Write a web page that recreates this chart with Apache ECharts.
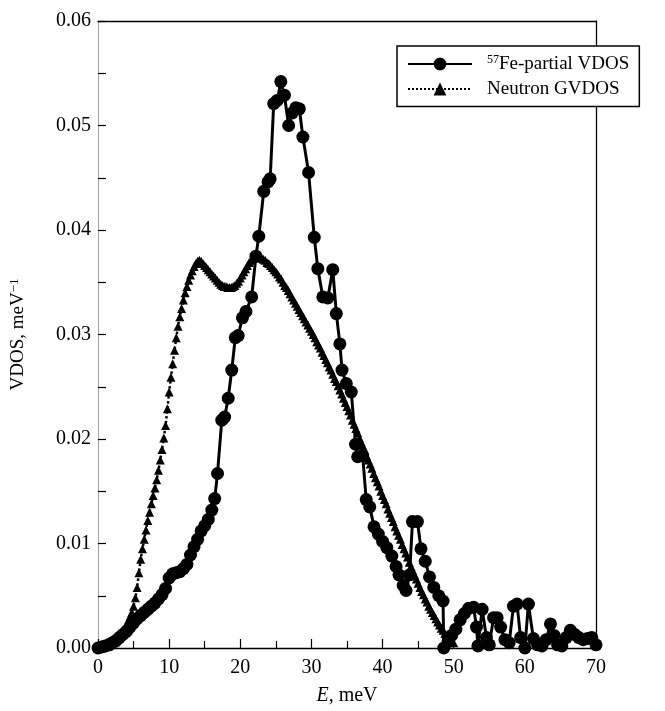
<!DOCTYPE html>
<html><head><meta charset="utf-8">
<script src="https://cdn.jsdelivr.net/npm/echarts/dist/echarts.min.js"></script>
<style>html,body{margin:0;padding:0;background:#fff}#c{width:665px;height:711px}</style>
</head><body><div id="c"></div>
<script>
// 57Fe-partial VDOS (energy in meV, value in meV^-1)
const feE = [0,0.5,1,1.5,2,2.5,3,3.5,4,4.5,5,5.5,6,6.5,7,7.5,8,8.5,9,9.5,10,10.5,11,11.5,12,12.5,13,13.5,14,14.5,15,15.5,16,
  16.4,16.8,17.4,17.8,18.3,18.8,19.3,19.7,20.3,20.8,21.6,
  22.2,22.6,23.3,23.9,24.2,24.7,25.2,25.7,26.2,26.8,
  27.3,27.8,28.3,28.8,29.6,30.4,30.9,31.6,32.3,33.0,
  33.5,34.0,34.3,34.9,35.6,36.2,36.5,37.2,37.7,38.2,
  38.8,39.4,40.0,40.6,41.3,41.9,42.3,42.9,43.3,43.8,
  44.2,44.9,45.4,46.0,46.6,47.2,47.9,48.5,48.6,49.2,
  49.7,50.3,50.9,51.5,52.1,52.8,53.2,53.4,54.0,54.6,
  55.0,55.6,56.1,56.6,57.2,57.8,58.4,58.9,59.4,60.0,
  60.5,61.2,61.8,62.4,63.0,63.6,64.1,64.6,65.2,65.8,
  66.4,67.0,67.6,68.2,68.8,69.4,70.0];
const feV = [0,0.0001,0.0002,0.0003,0.0005,0.0007,0.0010,0.0013,0.0016,0.0020,
  0.0024,0.0028,0.0031,0.0034,0.0037,0.0040,0.0043,0.0047,0.0051,0.0057,
  0.0067,0.0071,0.0072,0.0073,0.0076,0.0080,0.0089,0.0097,0.0104,0.0112,
  0.0117,0.0123,0.0132,
  0.0143,0.0167,0.0218,0.0221,0.0239,0.0266,0.0297,0.0299,0.0316,0.0322,0.0336,
  0.0375,0.0394,0.0437,0.0446,0.0449,0.0521,0.0524,0.0542,0.0529,0.0500,
  0.0512,0.0517,0.0516,0.0489,0.0455,0.0393,0.0363,0.0336,0.0335,0.0362,
  0.0320,0.0291,0.0266,0.0253,0.0245,0.0195,0.0183,0.0184,0.0142,0.0135,
  0.0116,0.0109,0.0102,0.0096,0.0088,0.0078,0.0070,0.0060,0.0055,0.0070,
  0.0121,0.0121,0.0095,0.0083,0.0068,0.0058,0.0050,0.0045,0.0000,0.0006,
  0.0012,0.0018,0.0027,0.0033,0.0038,0.0039,0.0020,0.0002,0.0037,0.0010,
  0.0003,0.0029,0.0029,0.0020,0.0008,0.0005,0.0040,0.0042,0.0010,0.0000,
  0.0042,0.0009,0.0003,0.0002,0.0008,0.0023,0.0012,0.0003,0.0002,0.0010,
  0.0017,0.0013,0.0010,0.0008,0.0009,0.0010,0.0003];

// Neutron GVDOS
const gvE = [0,0.25,0.5,0.75,1,1.25,1.5,1.75,2,2.25,2.5,2.75,3,3.25,3.5,3.75,4,4.25,4.5,4.75,
  5,5.25,5.5,5.75,6,6.25,6.5,6.75,7,7.25,7.5,7.75,8,8.25,8.5,8.75,9,9.25,9.5,9.75,
  10,10.25,10.5,10.75,11,11.25,11.5,11.75,12,12.25,12.5,12.75,13,13.25,13.5,13.75,14,14.25,14.5,14.75,
  15,15.25,15.5,15.75,16,16.25,16.5,16.75,17,17.25,17.5,17.75,18,18.25,18.5,18.75,19,19.25,19.5,19.75,
  20,20.25,20.5,20.75,21,21.25,21.5,21.75,22,22.25,22.5,22.75,23,23.25,23.5,23.75,24,24.25,24.5,24.75,
  25,25.25,25.5,25.75,26,26.25,26.5,26.75,27,27.25,27.5,27.75,28,28.25,28.5,28.75,29,29.25,29.5,29.75,
  30,30.25,30.5,30.75,31,31.25,31.5,31.75,32,32.25,32.5,32.75,33,33.25,33.5,33.75,34,34.25,34.5,34.75,
  35,35.25,35.5,35.75,36,36.25,36.5,36.75,37,37.25,37.5,37.75,38,38.25,38.5,38.75,39,39.25,39.5,39.75,
  40,40.25,40.5,40.75,41,41.25,41.5,41.75,42,42.25,42.5,42.75,43,43.25,43.5,43.75,44,44.25,44.5,44.75,
  45,45.25,45.5,45.75,46,46.25,46.5,46.75,47,47.25,47.5,47.75,48,48.25,48.5,48.75,49,49.25,49.5,49.75,
  50];
const gvV = [0,0.0000,0.0000,0.0001,0.0001,0.0002,0.0002,0.0003,0.0004,0.0005,0.0006,0.0008,0.0010,0.0012,0.0015,0.0018,0.0022,0.0026,0.0030,0.0034,
  0.0040,0.0048,0.0058,0.0072,0.0085,0.0095,0.0104,0.0113,0.0122,0.0130,0.0138,0.0146,0.0153,0.0161,0.0170,0.0180,0.0190,0.0201,0.0213,0.0229,
  0.0245,0.0259,0.0272,0.0285,0.0297,0.0308,0.0317,0.0325,0.0333,0.0340,0.0346,0.0352,0.0357,0.0361,0.0365,0.0368,0.0370,0.0371,0.0370,0.0368,
  0.0366,0.0364,0.0362,0.0360,0.0358,0.0356,0.0354,0.0352,0.0350,0.0348,0.0347,0.0346,0.0346,0.0345,0.0345,0.0345,0.0346,0.0347,0.0349,0.0351,
  0.0354,0.0357,0.0360,0.0363,0.0366,0.0369,0.0371,0.0373,0.0374,0.0375,0.0374,0.0374,0.0373,0.0372,0.0371,0.0369,0.0368,0.0366,0.0364,0.0362,
  0.0360,0.0358,0.0355,0.0353,0.0350,0.0347,0.0345,0.0342,0.0339,0.0336,0.0333,0.0330,0.0327,0.0324,0.0321,0.0318,0.0315,0.0312,0.0309,0.0306,
  0.0303,0.0300,0.0297,0.0293,0.0290,0.0287,0.0283,0.0280,0.0276,0.0273,0.0269,0.0266,0.0262,0.0258,0.0255,0.0251,0.0247,0.0243,0.0239,0.0235,
  0.0231,0.0227,0.0223,0.0218,0.0214,0.0210,0.0206,0.0201,0.0197,0.0193,0.0189,0.0184,0.0180,0.0176,0.0172,0.0167,0.0163,0.0159,0.0155,0.0150,
  0.0146,0.0142,0.0138,0.0133,0.0129,0.0125,0.0121,0.0116,0.0112,0.0108,0.0104,0.0099,0.0095,0.0091,0.0087,0.0082,0.0078,0.0074,0.0070,0.0066,
  0.0062,0.0058,0.0054,0.0051,0.0047,0.0044,0.0040,0.0037,0.0034,0.0031,0.0028,0.0025,0.0022,0.0019,0.0017,0.0014,0.0012,0.0010,0.0008,0.0006,
  0.0005];

const xMin = 0, xMax = 70, xStep = 10;
const yMin = 0, yMax = 0.06, yStep = 0.01;
const seriesNames = ['Fe', 'GV'];
const legendLabels = {Fe: '{sup|57}Fe-partial VDOS', GV: 'Neutron GVDOS'};

const FONT = "'Liberation Serif', 'Times New Roman', serif";
const chart = echarts.init(document.getElementById('c'), null, {renderer: 'canvas'});
const blackLine = {color: '#000', width: 1.2};

chart.setOption({
  animation: false,
  backgroundColor: '#fff',
  grid: {left: 96, right: 69, top: 21, bottom: 55, containLabel: false},
  xAxis: [{
    type: 'value', min: xMin, max: xMax, interval: xStep,
    axisLine: {show: true, lineStyle: {color: '#000', width: 1.3}},
    axisTick: {show: true, inside: true, length: 9, lineStyle: blackLine},
    minorTick: {show: true, splitNumber: 2, length: 7, lineStyle: blackLine},
    splitLine: {show: false},
    axisLabel: {color: '#000', fontFamily: FONT, fontSize: 20, margin: 10},
    name: '{i|E}, meV', nameLocation: 'middle', nameGap: 38,
    nameTextStyle: {color: '#000', fontFamily: FONT, fontSize: 20,
      rich: {i: {fontStyle: 'italic', fontFamily: FONT, fontSize: 20, color: '#000'}}}
  }, {
    type: 'value', position: 'top', min: xMin, max: xMax,
    axisLine: {show: true, onZero: false, lineStyle: {color: '#000', width: 1.3}},
    axisTick: {show: false}, axisLabel: {show: false}, splitLine: {show: false}
  }],
  yAxis: [{
    type: 'value', min: yMin, max: yMax, interval: yStep,
    axisLine: {show: true, lineStyle: {color: '#aaa', width: 1.2}},
    axisTick: {show: true, inside: true, length: 8, lineStyle: blackLine},
    minorTick: {show: true, splitNumber: 2, length: 8, lineStyle: blackLine},
    splitLine: {show: false},
    axisLabel: {color: '#000', fontFamily: FONT, fontSize: 20, margin: 7,
      formatter: v => v.toFixed(2)},
    name: 'VDOS, meV{sup|−1}', nameLocation: 'middle', nameGap: 69,
    nameTextStyle: {color: '#000', fontFamily: FONT, fontSize: 19,
      rich: {sup: {fontSize: 13, fontFamily: FONT, color: '#000', verticalAlign: 'top', padding: [0, 0, 8, 0]}}}
  }, {
    type: 'value', position: 'right', min: yMin, max: yMax,
    axisLine: {show: true, onZero: false, lineStyle: {color: '#000', width: 1.3}},
    axisTick: {show: false}, axisLabel: {show: false}, splitLine: {show: false}
  }],
  legend: {
    left: 397, top: 46, orient: 'vertical',
    backgroundColor: '#fff', borderColor: '#000', borderWidth: 1.5, borderRadius: 0,
    padding: [8, 10, 8, 10], itemGap: 6, itemWidth: 64, itemHeight: 16,
    data: seriesNames,
    formatter: n => legendLabels[n],
    textStyle: {color: '#000', fontFamily: FONT, fontSize: 19, padding: [0, 0, 0, 10],
      rich: {sup: {fontSize: 12, fontFamily: FONT, color: '#000', verticalAlign: 'top', padding: [0, 0, 8, 0]}}},
    z: 10
  },
  series: [{
    name: 'Fe', type: 'line',
    data: feE.map((e, i) => [e, feV[i]]),
    symbol: 'circle', symbolSize: 13,
    lineStyle: {color: '#000', width: 3},
    itemStyle: {color: '#000'},
    z: 3
  }, {
    name: 'GV', type: 'line',
    data: gvE.map((e, i) => [e, gvV[i]]),
    symbol: 'triangle', symbolSize: 9,
    lineStyle: {color: '#000', width: 2.5, type: 'dotted'},
    itemStyle: {color: '#000'},
    z: 2
  }]
});
</script>
</body></html>
